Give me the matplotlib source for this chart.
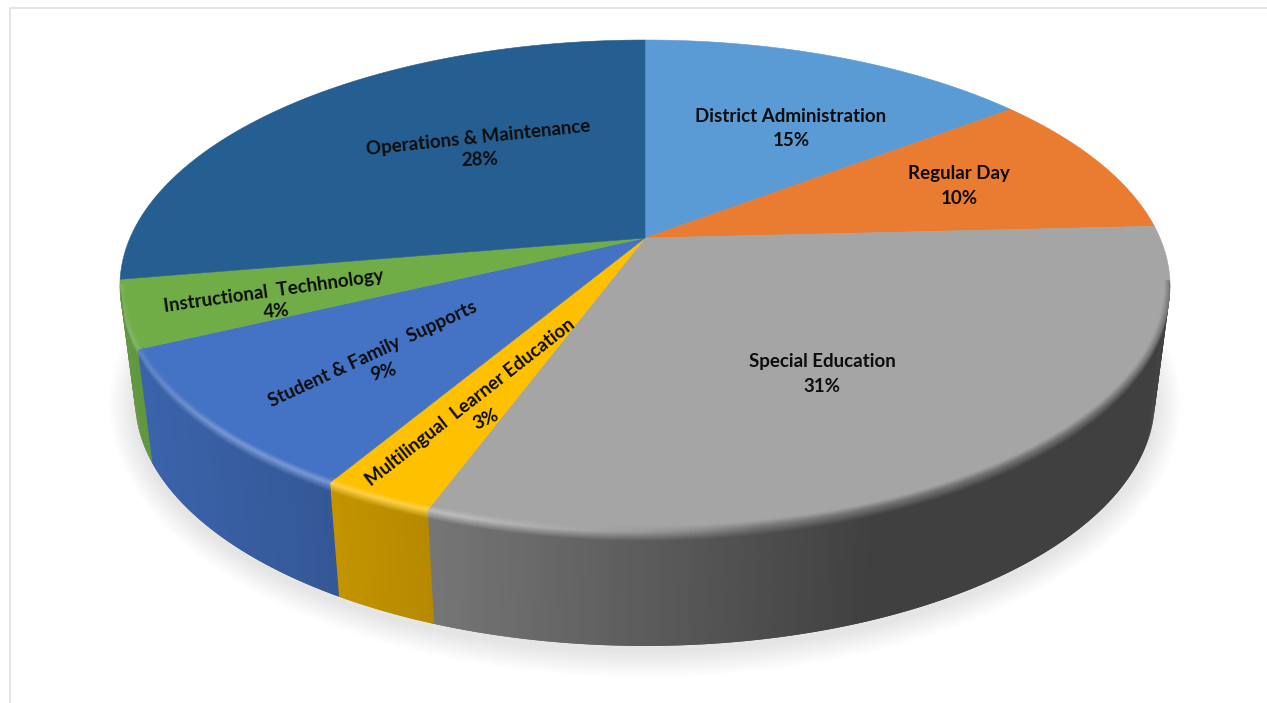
import numpy as np
import matplotlib
matplotlib.use('Agg')
import matplotlib.pyplot as plt
from matplotlib.collections import PolyCollection
from matplotlib.colors import to_rgb
from matplotlib.patches import Polygon

# Slices, clockwise from 12 o'clock
categories = ['District Administration', 'Regular Day', 'Special Education',
              'Multilingual  Learner Education', 'Student & Family  Supports',
              'Instructional  Techhnology', 'Operations & Maintenance']
shares = [14.6, 9.6, 31.4, 2.9, 9.4, 4.4, 27.7]
colors = ['#5B9BD5', '#E97C30', '#A5A5A5', '#FFC000', '#4472C4', '#70AD47', '#255E91']

# Label placement: name x, name y, name rotation, percent x, percent y, percent rotation
label_pos = [(791, 116, 0, 791, 141, 0),
             (959, 174, 0, 959, 198, 0),
             (822, 362, 0, 822, 387, 0),
             (470, 402, 38, 486, 419, 25),
             (373, 354, 25, 384, 372, 15),
             (274, 291, 8, 277, 311, 5),
             (478, 138, 6, 480, 160, 2)]

# Perspective of the pie in pixels
cx, apex_y = 645, 238
k = 0.195
R = 515
Rq = 236.6
depth = 114
bottom_scale = 0.971


def top_rim(t):
    t = np.radians(t)
    d = 1 + k * np.cos(t)
    return cx + R * np.sin(t) / d, apex_y - Rq * np.cos(t) / d


def bottom_rim(t):
    x, y = top_rim(t)
    return cx + (x - cx) * bottom_scale, y + depth


def mix(a, b, f):
    return tuple((1 - f) * p + f * q for p, q in zip(a, b))


def wall_colors(face, x, d):
    # colour of the side wall at a distance d below the rim (negative is on the top face)
    shade = np.interp(x, [140, 430, 870, 1170], [0.87, 0.71, 0.39, 0.39])
    wall = tuple(c * shade for c in face)
    h = np.interp(x, [140, 220, 450, 760], [0.6, 1, 1, 0])
    hl = mix(mix(face, wall, 0.5), mix(face, (1, 1, 1), 0.28), h)
    if d <= 0:
        return mix(face, hl, np.clip((d + 6) / 6, 0, 1))
    return mix(hl, wall, np.clip(d / 9, 0, 1))


fig = plt.figure(figsize=(12.67, 7.03), dpi=100)
ax = fig.add_axes([0, 0, 1, 1])
ax.set_xlim(0, 1267)
ax.set_ylim(703, 0)
ax.axis('off')

# thin frame at the left and top of the picture
ax.plot([10, 10, 1267], [703, 8, 8], color='#E0E0E0', lw=1.2)

# soft shadow under the pie
all_t = np.linspace(0, 360, 361)
bx, by = bottom_rim(all_t)
for grow in np.arange(26, 0, -2):
    f = (510 + grow) / 510
    sy = 405 + (by - 400) * (246 + grow) / 246
    ax.add_patch(Polygon(np.column_stack([cx + (bx - cx) * f, sy]), closed=True,
                         fc='black', ec='none', alpha=0.009, zorder=1))

# top face
edges = np.cumsum([0] + shares) / sum(shares) * 360
for i, color in enumerate(colors):
    ts = np.linspace(edges[i], edges[i + 1], 80)
    x, y = top_rim(ts)
    pts = np.column_stack([np.r_[cx, x], np.r_[apex_y, y]])
    ax.add_patch(Polygon(pts, closed=True, fc=color, ec=color, lw=0.4, zorder=2))

# side wall with its bevel, cut into small quads that overlap so no seams show
rows = [-6, -5, -4, -3, -2, -1, 0, 1, 2, 3, 4, 5, 6, 7, 8, 9, depth]
wall_start, wall_end = 100, 259
step = 0.5
apex = np.array([cx, apex_y])


def at(p, q, inward, d):
    return p + inward * (-d) if d < 0 else p + (q - p) * d / depth


quads, quad_colors = [], []
for i, color in enumerate(colors):
    lo, hi = max(edges[i], wall_start), min(edges[i + 1], wall_end)
    if lo >= hi:
        continue
    face = to_rgb(color)
    ts = np.r_[np.arange(lo, hi, step), hi]
    for t0, t1 in zip(ts[:-1], ts[1:]):
        t1 = min(t1 + step, wall_end)
        p0, p1 = np.array(top_rim(t0)), np.array(top_rim(t1))
        q0, q1 = np.array(bottom_rim(t0)), np.array(bottom_rim(t1))
        in0 = (apex - p0) / np.hypot(*(apex - p0))
        in1 = (apex - p1) / np.hypot(*(apex - p1))
        for d0, d1 in zip(rows[:-1], rows[1:]):
            mid = (d0 + d1) / 2 if d1 < depth else 9
            d_end = d1 if d1 == depth else d1 + 1
            quads.append([at(p0, q0, in0, d0), at(p1, q1, in1, d0),
                          at(p1, q1, in1, d_end), at(p0, q0, in0, d_end)])
            quad_colors.append(wall_colors(face, (p0[0] + p1[0]) / 2, mid))
ax.add_collection(PolyCollection(quads, facecolors=quad_colors, edgecolors='none',
                                 linewidths=0, zorder=3))

# labels
for name, share, pos in zip(categories, shares, label_pos):
    ax.text(pos[0], pos[1], name, rotation=pos[2], rotation_mode='anchor',
            ha='center', va='center', family='Lato', fontweight='bold',
            fontsize=13.5, color='#0D0D0D', zorder=5)
    ax.text(pos[3], pos[4], f'{share:.0f}%', rotation=pos[5], rotation_mode='anchor',
            ha='center', va='center', family='Lato', fontweight='bold',
            fontsize=13.5, color='#0D0D0D', zorder=5)

fig.savefig('out.png', dpi=100, facecolor='white')
